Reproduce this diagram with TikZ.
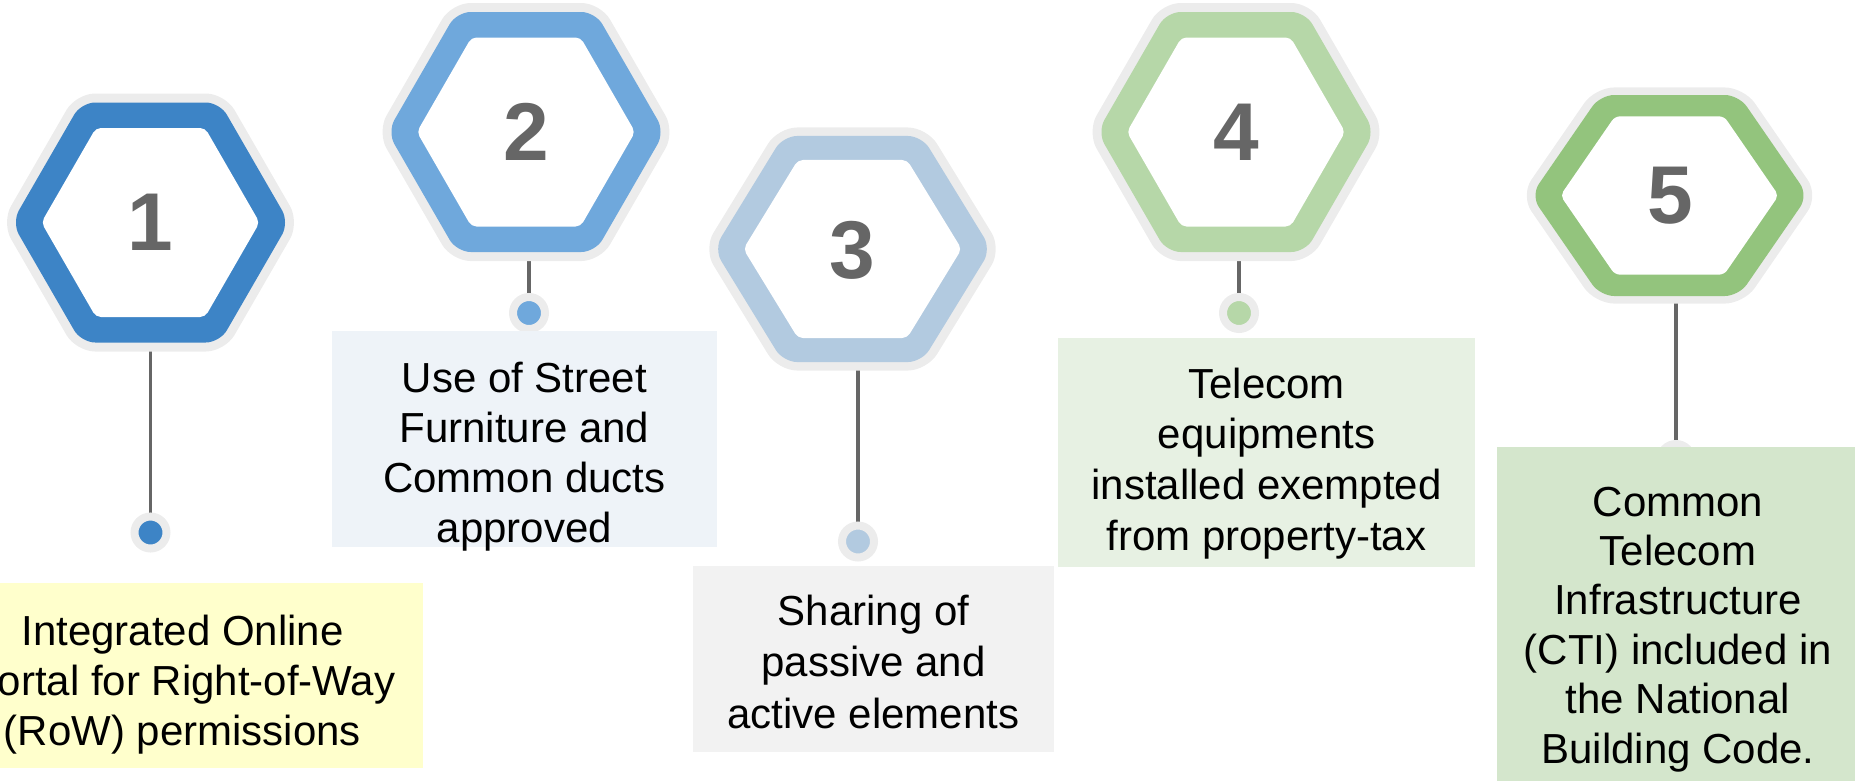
\documentclass[tikz,border=0pt]{standalone}
\usepackage{fontspec}
\setmainfont{Liberation Sans}
\usetikzlibrary{backgrounds}
\definecolor{ring}{HTML}{ECECEC}
\definecolor{c1}{HTML}{3D84C6}
\definecolor{c2}{HTML}{6FA8DC}
\definecolor{c3}{HTML}{B2CAE0}
\definecolor{c4}{HTML}{B6D7A8}
\definecolor{c5}{HTML}{93C47D}
\definecolor{bx1}{HTML}{FFFFCC}
\definecolor{bx2}{HTML}{EEF3F8}
\definecolor{bx3}{HTML}{F2F2F2}
\definecolor{bx4}{HTML}{E7F1E3}
\definecolor{bx5}{HTML}{D4E6CC}
\definecolor{ink}{HTML}{666666}
\tikzset{
  pics/hexa/.style={code={
    \fill[ring, rounded corners=19pt] (0,-129) -- (74.5,-129) -- (149,0) -- (74.5,129) -- (-74.5,129) -- (-149,0) -- (-74.5,-129) -- cycle;
    \fill[#1, rounded corners=14pt] (0,-120) -- (69.3,-120) -- (138.6,0) -- (69.3,120) -- (-69.3,120) -- (-138.6,0) -- (-69.3,-120) -- cycle;
    \fill[white, rounded corners=5pt] (0,-94.5) -- (54.6,-94.5) -- (109.1,0) -- (54.6,94.5) -- (-54.6,94.5) -- (-109.1,0) -- (-54.6,-94.5) -- cycle;
  }},
  digit/.style={font=\fontsize{82}{82}\selectfont\bfseries, text=ink, inner sep=0pt, anchor=center},
  dot/.style={circle, inner sep=0pt, minimum size=32pt, line width=8pt, draw=ring, fill=#1},
  conn/.style={draw=ink, line width=3.5pt},
  box/.style={rectangle, inner sep=0pt, draw=none},
  txt/.style={font=\fontsize{42}{#1}\selectfont, text=black, inner sep=0pt, anchor=base},
}
\begin{document}
\begin{tikzpicture}[x=1pt, y=-1pt]
\useasboundingbox (0,0) rectangle (1855,780);
\clip (0,0) rectangle (1855,780);

% hexagons
\pic (hx1) at (150.5,222.5) {hexa=c1};
\pic (hx2) at (526,132) {hexa=c2};
\pic[yscale=0.942] (hx3) at (852.5,249) {hexa=c3};
\pic (hx4) at (1236,132) {hexa=c4};
\pic[yscale=0.8375] (hx5) at (1669.5,195.5) {hexa=c5};

% digits
\node[digit] (n1) at (150.5,222.5) {1};
\node[digit] (n2) at (526,132) {2};
\node[digit] (n3) at (852.5,250) {3};
\node[digit] (n4) at (1236,132) {4};
\node[digit] (n5) at (1670,196) {5};

% connector start points
\coordinate (b1) at (150.5,345);
\coordinate (b2) at (529,255);
\coordinate (b3) at (858,362);
\coordinate (b4) at (1239,255);
\coordinate (b5) at (1676,298);

% dots
\node[dot=c1] (d1) at (150.5,532.5) {};
\node[dot=c2] (d2) at (529,313) {};
\node[dot=c3] (d3) at (858,541.5) {};
\node[dot=c4] (d4) at (1239,313) {};
\node[dot=c5] (d5) at (1676,460) {};

\begin{scope}[on background layer]
\draw[conn] (b1) -- (d1);
\draw[conn] (b2) -- (d2);
\draw[conn] (b3) -- (d3);
\draw[conn] (b4) -- (d4);
\draw[conn] (b5) -- (d5);
\end{scope}

% boxes
\node[box, fill=bx1, minimum width=481pt, minimum height=185pt] (box1) at (182.5,675.5) {};
\node[box, fill=bx2, minimum width=385pt, minimum height=216pt] (box2) at (524.5,439) {};
\node[box, fill=bx3, minimum width=361pt, minimum height=186pt] (box3) at (873.4,659) {};
\node[box, fill=bx4, minimum width=417pt, minimum height=229pt] (box4) at (1266.5,452.3) {};
\node[box, fill=bx5, minimum width=362pt, minimum height=360pt] (box5) at (1678,626.7) {};

% texts
\node[txt=50] (l1) at (182.5,645) {\begin{tabular}[t]{@{}c@{}}Integrated Online\\Portal for Right-of-Way\\(RoW) permissions\end{tabular}};
\node[txt=50] (l2) at (524.5,392) {\begin{tabular}[t]{@{}c@{}}Use of Street\\Furniture and\\Common ducts\\approved\end{tabular}};
\node[txt=51.5] (l3) at (873.4,625) {\begin{tabular}[t]{@{}c@{}}Sharing of\\passive and\\active elements\end{tabular}};
\node[txt=50.7] (l4) at (1266.5,398) {\begin{tabular}[t]{@{}c@{}}Telecom\\equipments\\installed exempted\\from property-tax\end{tabular}};
\node[txt=49.4] (l5) at (1678,516) {\begin{tabular}[t]{@{}c@{}}Common\\Telecom\\Infrastructure\\(CTI) included in\\the National\\Building Code.\end{tabular}};
\end{tikzpicture}
\end{document}
